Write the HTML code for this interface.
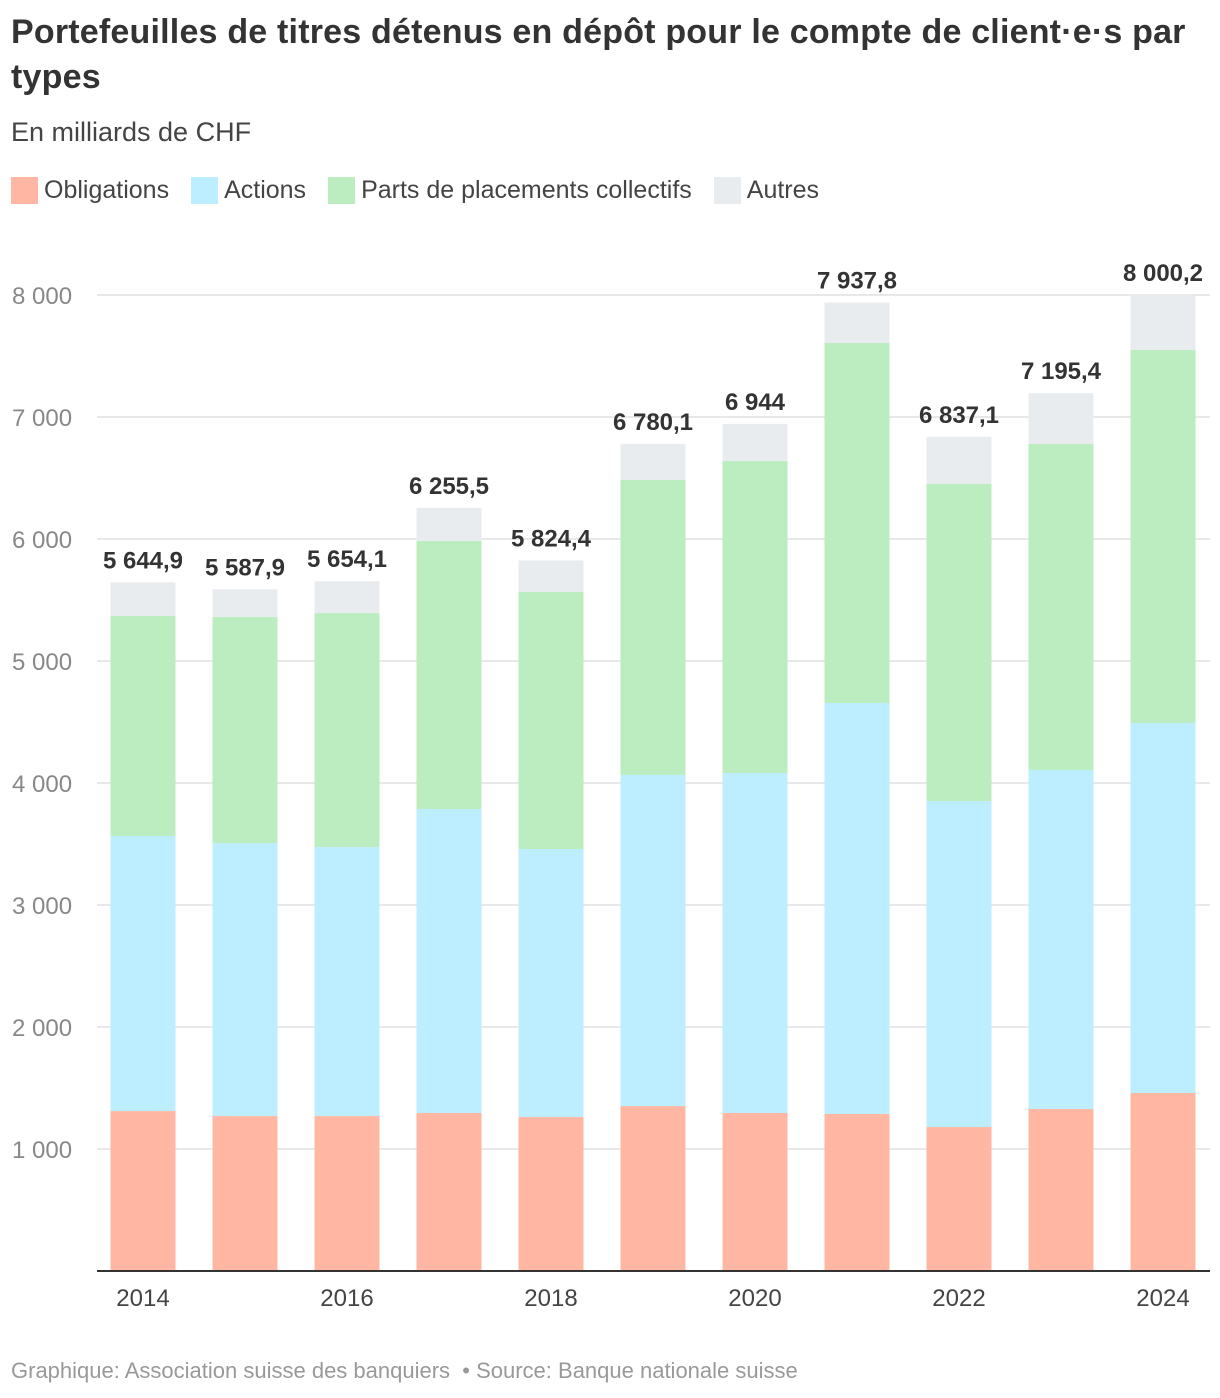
<!DOCTYPE html>
<html><head><meta charset="utf-8">
<style>
body{margin:0;background:#fff;font-family:"Liberation Sans",sans-serif;color:#333;}
#wrap{position:relative;width:1220px;height:1398px;overflow:hidden;}
h1{position:absolute;left:11px;top:10px;margin:0;font-size:34px;letter-spacing:0.2px;line-height:45px;font-weight:bold;color:#333;width:1205px;}
.sub{position:absolute;left:11px;top:117px;font-size:27px;color:#444;}
.legend{position:absolute;left:11px;top:176px;font-size:25px;color:#444;display:flex;gap:0;}
.li{display:flex;align-items:center;margin-right:22px;}
.sw{width:27px;height:27px;margin-right:6px;display:inline-block;}
.foot{position:absolute;left:11px;top:1358px;font-size:22px;color:#999;}
</style></head><body>
<div id="wrap">
<h1>Portefeuilles de titres détenus en dépôt pour le compte de client·e·s par types</h1>
<div class="sub">En milliards de CHF</div>
<div class="legend">
<div class="li"><span class="sw" style="background:#ffb6a3"></span>Obligations</div>
<div class="li"><span class="sw" style="background:#bdeeff"></span>Actions</div>
<div class="li"><span class="sw" style="background:#bbedc1"></span>Parts de placements collectifs</div>
<div class="li"><span class="sw" style="background:#e9ecef"></span>Autres</div>
</div>
<svg id="chart" width="1220" height="1398" style="position:absolute;left:0;top:0"></svg>
<div class="foot">Graphique: Association suisse des banquiers &nbsp;•&nbsp;Source: Banque nationale suisse</div>
</div>
<script>
const years=[2014,2015,2016,2017,2018,2019,2020,2021,2022,2023,2024];
const obligations=[1311,1270,1270,1295,1262,1352,1295,1287,1180,1328,1459];
const actions=[2255,2238,2205,2492,2197,2714,2787,3369,2672,2779,3033];
const parts=[1803,1853,1918,2197,2107,2418,2557,2951,2599,2672,3057];
const totals=[5644.9,5587.9,5654.1,6255.5,5824.4,6780.1,6944,7937.8,6837.1,7195.4,8000.2];
const yTicks=[1000,2000,3000,4000,5000,6000,7000,8000];
const xTickYears=[2014,2016,2018,2020,2022,2024];

const svg=document.getElementById('chart');
const NS='http://www.w3.org/2000/svg';
const y0=1271,pxPer=0.122;
function y(v){return y0-v*pxPer;}
function xc(i){return 143+i*102;}
const bw=65;
function mk(tag,attrs){const e=document.createElementNS(NS,tag);for(const k in attrs)e.setAttribute(k,attrs[k]);svg.appendChild(e);return e;}
function fmt(v){let s=String(v).replace('.',',');let [a,b]=s.split(',');a=a.replace(/\B(?=(\d{3})+(?!\d))/g,' ');return b?a+','+b:a;}

yTicks.forEach(t=>{
  const l=mk('line',{x1:97,x2:1210,y1:y(t),y2:y(t),stroke:'#d0d0d0','stroke-width':1});
  
  
  const tx=mk('text',{x:12,y:y(t)+9,'font-size':24,fill:'#888','font-family':'Liberation Sans, sans-serif'});
  tx.textContent=fmt(t);
  
  
});

const series=[[obligations,'#ffb6a3','obligations'],[actions,'#bdeeff','actions'],[parts,'#bbedc1','parts']];
years.forEach((yr,i)=>{
  let base=0;
  series.forEach(([arr,col,nm])=>{
    const r=mk('rect',{x:xc(i)-bw/2,y:y(base+arr[i]),width:bw,height:arr[i]*pxPer,fill:col});
    
    
    base+=arr[i];
  });
  const other=totals[i]-base;
  const r=mk('rect',{x:xc(i)-bw/2,y:y(totals[i]),width:bw,height:other*pxPer,fill:'#e9ecef'});
  
  
  const t=mk('text',{x:xc(i),y:y(totals[i])-14,'font-size':24,'font-weight':'bold',fill:'#333','text-anchor':'middle','font-family':'Liberation Sans, sans-serif'});
  t.textContent=fmt(totals[i]);
  
  
});

const ax=mk('line',{x1:97,x2:1210,y1:y0,y2:y0,stroke:'#333','stroke-width':2});



xTickYears.forEach(yr=>{
  const i=years.indexOf(yr);
  const t=mk('text',{x:xc(i),y:1306,'font-size':24,fill:'#444','text-anchor':'middle','font-family':'Liberation Sans, sans-serif'});
  t.textContent=yr;
  
  
});
</script>
</body></html>
